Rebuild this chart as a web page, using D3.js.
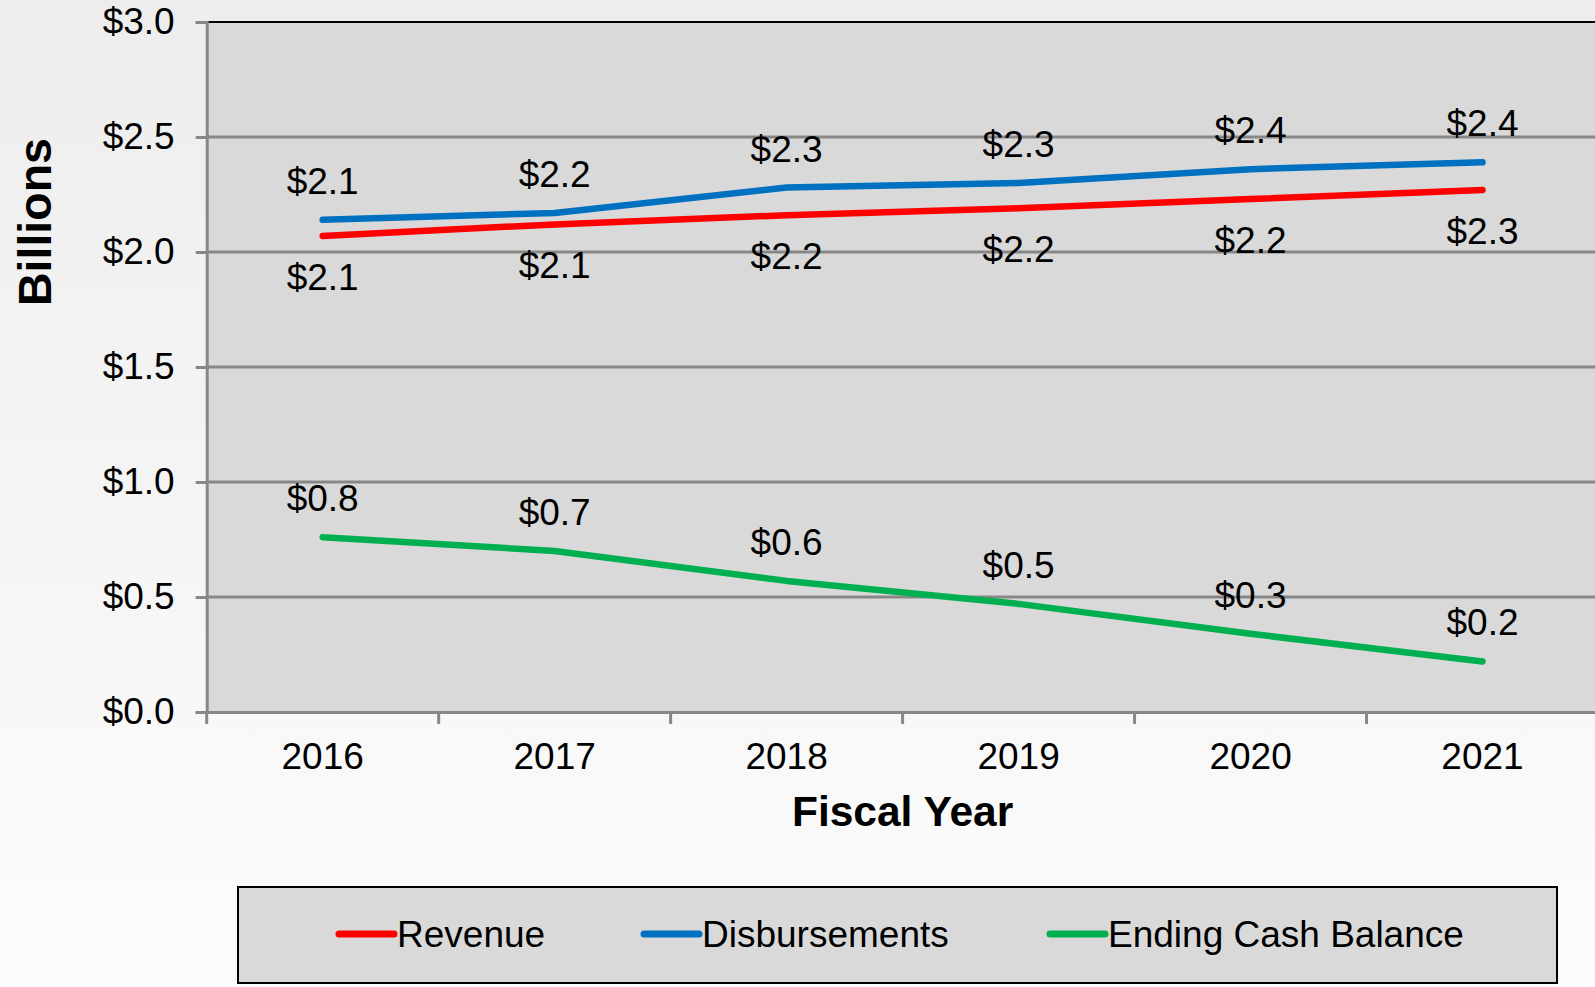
<!DOCTYPE html>
<html lang="en">
<head>
    <meta charset="UTF-8">
    <title>Revenue, Disbursements and Ending Cash Balance</title>
    <script src="https://d3js.org/d3.v7.min.js"></script>
    <style>
        body { margin: 0; overflow: hidden; }
        svg { display: block; font-family: "Liberation Sans", Arial, sans-serif; }
    </style>
</head>
<body>
    <script>
        const years = ['2016', '2017', '2018', '2019', '2020', '2021'];
        const revenue = [2.07, 2.12, 2.16, 2.19, 2.23, 2.27];
        const disbursements = [2.14, 2.17, 2.28, 2.30, 2.36, 2.39];
        const cashBalance = [0.76, 0.70, 0.57, 0.47, 0.34, 0.22];
        const yTicks = [0, 0.5, 1.0, 1.5, 2.0, 2.5, 3.0];
        const seriesNames = ['Revenue', 'Disbursements', 'Ending Cash Balance'];

        const W = 1595, H = 987;
        const plotLeft = 206.7, plotRight = 1598.5, plotTop = 22, plotBottom = 712;
        const fs = 37;

        const series = [
            { name: seriesNames[0], values: revenue, color: '#ff0000', labelBelow: true },
            { name: seriesNames[1], values: disbursements, color: '#0070c0', labelBelow: false },
            { name: seriesNames[2], values: cashBalance, color: '#00b050', labelBelow: false }
        ];

        const svg = d3.select('body').append('svg').attr('width', W).attr('height', H);

        const grad = svg.append('defs').append('linearGradient')
            .attr('id', 'bg').attr('x1', 0).attr('y1', 0).attr('x2', 0).attr('y2', 1);
        grad.append('stop').attr('offset', '0%').attr('stop-color', '#ededed');
        grad.append('stop').attr('offset', '100%').attr('stop-color', '#fcfcfc');
        svg.append('rect').attr('width', W).attr('height', H).attr('fill', 'url(#bg)');

        const x = d3.scaleBand().domain(years).range([plotLeft, plotRight]);
        const y = d3.scaleLinear().domain([0, 3]).range([plotBottom, plotTop]);
        const cx = d => x(d) + x.bandwidth() / 2;

        // plot area
        svg.append('rect')
            .attr('x', plotLeft).attr('y', plotTop)
            .attr('width', plotRight - plotLeft).attr('height', plotBottom - plotTop)
            .attr('fill', '#d9d9d9');

        // gridlines
        svg.append('g').selectAll('line')
            .data(yTicks.filter(d => d > 0 && d < 3))
            .join('line')
            .attr('x1', plotLeft).attr('x2', plotRight)
            .attr('y1', d => y(d)).attr('y2', d => y(d))
            .attr('stroke', '#878787').attr('stroke-width', 3);

        // top border
        svg.append('line')
            .attr('x1', plotLeft).attr('x2', plotRight)
            .attr('y1', plotTop).attr('y2', plotTop)
            .attr('stroke', '#000').attr('stroke-width', 2);

        // y axis
        const yAxis = d3.axisLeft(y).tickValues(yTicks).tickSize(11).tickPadding(21)
            .tickFormat(d => '$' + d.toFixed(1));
        const gy = svg.append('g').attr('transform', `translate(${plotLeft},0)`).call(yAxis);
        gy.select('.domain').attr('stroke', '#878787').attr('stroke-width', 3);
        gy.selectAll('.tick line').attr('stroke', '#878787').attr('stroke-width', 3);
        gy.selectAll('.tick text').attr('font-size', fs).attr('fill', '#000')
            .attr('font-family', '"Liberation Sans", Arial, sans-serif');

        // x axis
        const xAxis = d3.axisBottom(x).tickSize(0).tickSizeOuter(0);
        const gx = svg.append('g').attr('transform', `translate(0,${plotBottom})`).call(xAxis);
        gx.select('.domain').attr('stroke', '#878787').attr('stroke-width', 3);
        gx.selectAll('.tick text').attr('font-size', fs).attr('fill', '#000')
            .attr('y', 57).attr('dy', 0)
            .attr('font-family', '"Liberation Sans", Arial, sans-serif');
        gx.selectAll('.bound')
            .data(years)
            .join('line')
            .attr('class', 'bound')
            .attr('x1', d => x(d)).attr('x2', d => x(d))
            .attr('y1', -1).attr('y2', 12)
            .attr('stroke', '#878787').attr('stroke-width', 3);

        // axis titles
        svg.append('text')
            .attr('x', (plotLeft + plotRight) / 2).attr('y', 826)
            .attr('text-anchor', 'middle')
            .attr('font-size', 42.5).attr('font-weight', 'bold')
            .text('Fiscal Year');
        svg.append('text')
            .attr('transform', 'translate(51,222) rotate(-90)')
            .attr('text-anchor', 'middle')
            .attr('font-size', 46.5).attr('font-weight', 'bold')
            .text('Billions');

        // lines
        const line = d3.line().x((d, i) => cx(years[i])).y(d => y(d));
        series.forEach(s => {
            svg.append('path')
                .datum(s.values)
                .attr('d', line)
                .attr('fill', 'none')
                .attr('stroke', s.color)
                .attr('stroke-width', 6.5)
                .attr('stroke-linecap', 'round')
                .attr('stroke-linejoin', 'round');
        });

        // data labels
        series.forEach(s => {
            svg.append('g').selectAll('text')
                .data(s.values)
                .join('text')
                .attr('x', (d, i) => cx(years[i]))
                .attr('y', d => s.labelBelow ? y(d) + 54 : y(d) - 26)
                .attr('text-anchor', 'middle')
                .attr('font-size', fs)
                .text(d => '$' + d.toFixed(1));
        });

        // legend
        const lg = svg.append('g');
        lg.append('rect')
            .attr('x', 238).attr('y', 887)
            .attr('width', 1319).attr('height', 96)
            .attr('fill', '#d9d9d9').attr('stroke', '#000').attr('stroke-width', 2);
        const legendX = [339, 644, 1050];
        series.forEach((s, i) => {
            lg.append('line')
                .attr('x1', legendX[i]).attr('x2', legendX[i] + 55)
                .attr('y1', 934).attr('y2', 934)
                .attr('stroke', s.color).attr('stroke-width', 7)
                .attr('stroke-linecap', 'round');
            lg.append('text')
                .attr('x', legendX[i] + 58).attr('y', 947)
                .attr('font-size', fs)
                .text(s.name);
        });
    </script>
</body>
</html>
